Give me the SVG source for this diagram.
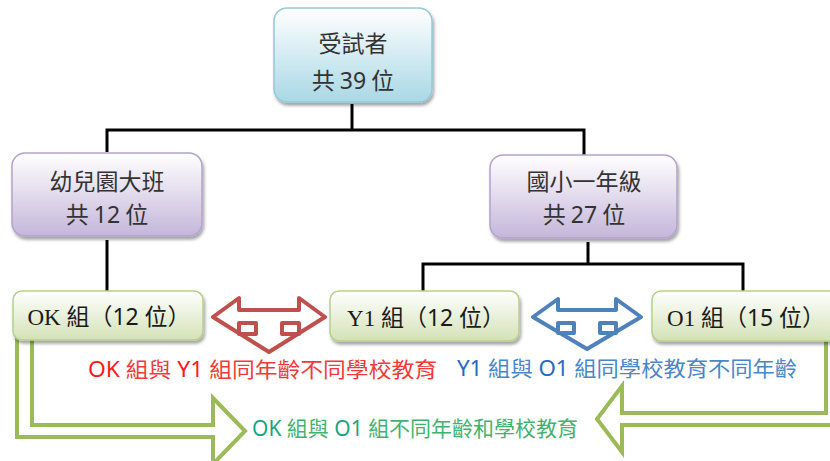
<svg xmlns="http://www.w3.org/2000/svg" width="830" height="461" viewBox="0 0 830 461">
<defs>
<linearGradient id="gBlue" x1="0" y1="0" x2="0" y2="1"><stop offset="0" stop-color="#ffffff"/><stop offset="1" stop-color="#a9d8e5"/></linearGradient>
<linearGradient id="gPurple" x1="0" y1="0" x2="0" y2="1"><stop offset="0" stop-color="#ffffff"/><stop offset="1" stop-color="#c4b6da"/></linearGradient>
<linearGradient id="gGreen" x1="0" y1="0" x2="0" y2="1"><stop offset="0" stop-color="#ffffff"/><stop offset="1" stop-color="#d3e2b6"/></linearGradient>
<filter id="sh" x="-10%" y="-10%" width="125%" height="135%"><feDropShadow dx="1.5" dy="3" stdDeviation="1.8" flood-color="#000" flood-opacity="0.35"/></filter>
</defs>
<style>
.conn{fill:none;stroke:#000;stroke-width:3;stroke-linejoin:miter}
.box{stroke-width:1.5}
.t{font-family:"Noto Sans CJK TC","Noto Sans CJK SC",sans-serif;font-size:23px;fill:#333;text-anchor:middle}
.num{font-family:"Noto Sans",sans-serif}
.lab{font-family:"Liberation Serif","Noto Sans CJK TC",serif;font-size:23px;fill:#1a1a1a;text-anchor:middle}
.ann{font-family:"Noto Sans","Noto Sans CJK TC",sans-serif;font-size:21px}
.garrow{fill:#fff;stroke:#9bbb59;stroke-width:4;stroke-linejoin:miter}
</style>
<g id="connectors">
<path class="conn" d="M352,104 V130 M107,152 V130 H584 V155"/>
<path class="conn" d="M107,240 V292"/>
<path class="conn" d="M588,242 V264 M423,292 V264 H743 V292"/>
</g>
<g id="green-arrow-left"><path class="garrow" d="M17,338 V437 H213 V464 L245,431 L213,398 V425 H32 V338"/></g>
<g id="green-arrow-right"><path class="garrow" d="M826,338 V413 H622 V386 L597,419 L622,452 V425 H845 V338"/></g>
<g id="node-top">
<rect class="box" x="274" y="8" width="158" height="94" rx="13" fill="url(#gBlue)" stroke="#95c8d8" filter="url(#sh)"/>
<text class="t" x="353" y="52">受試者</text>
<text class="t" x="353" y="89">共 <tspan class="num">39</tspan> 位</text>
</g>
<g id="node-kinder">
<rect class="box" x="12" y="153" width="190" height="83" rx="13" fill="url(#gPurple)" stroke="#b3a2cc" filter="url(#sh)"/>
<text class="t" x="107" y="190">幼兒園大班</text>
<text class="t" x="107" y="223">共 <tspan class="num">12</tspan> 位</text>
</g>
<g id="node-grade1">
<rect class="box" x="490" y="155" width="187" height="83" rx="13" fill="url(#gPurple)" stroke="#b3a2cc" filter="url(#sh)"/>
<text class="t" x="584" y="190">國小一年級</text>
<text class="t" x="584" y="223">共 <tspan class="num">27</tspan> 位</text>
</g>
<g id="node-ok">
<rect class="box" x="13" y="291" width="190" height="49" rx="9" fill="url(#gGreen)" stroke="#b7cf8c" filter="url(#sh)"/>
<text class="lab" x="109" y="325">OK 組（<tspan class="num">12</tspan> 位）</text>
</g>
<g id="node-y1">
<rect class="box" x="330" y="291" width="189" height="50" rx="9" fill="url(#gGreen)" stroke="#b7cf8c" filter="url(#sh)"/>
<text class="lab" x="426" y="326">Y1 組（<tspan class="num">12</tspan> 位）</text>
</g>
<g id="node-o1">
<rect class="box" x="652" y="291" width="190" height="50" rx="9" fill="url(#gGreen)" stroke="#b7cf8c" filter="url(#sh)"/>
<text class="lab" x="746" y="326">O1 組（<tspan class="num">15</tspan> 位）</text>
</g>
<g id="labels">
<text class="ann" x="88" y="377" fill="#f23a3a" textLength="349" lengthAdjust="spacingAndGlyphs"><tspan fill="#ff1a1a">OK</tspan> 組與 <tspan fill="#ff1a1a">Y1</tspan> 組同年齡不同學校教育</text>
<text class="ann" x="457" y="376" fill="#4a86c8" textLength="340" lengthAdjust="spacingAndGlyphs"><tspan fill="#1f6cc4">Y1</tspan> 組與 <tspan fill="#1f6cc4">O1</tspan> 組同學校教育不同年齡</text>
<text class="ann" x="252" y="436" fill="#3fb36e" textLength="326" lengthAdjust="spacingAndGlyphs"><tspan fill="#17a77a">OK</tspan> 組與 <tspan fill="#17a77a">O1</tspan> 組不同年齡和學校教育</text>
</g>
<g id="arrow-red" fill="#ffffff" stroke="#c0504d" stroke-width="4" stroke-linejoin="round">
<polygon points="213,317 239,298 239,310 299,310 299,298 325,317 269,352"/>
<polygon points="239,323 256,323 256,334 239,334"/>
<polygon points="282,323 299,323 299,334 282,334"/>
</g>
<g id="arrow-blue" fill="#ffffff" stroke="#4f81bd" stroke-width="4" stroke-linejoin="round">
<polygon points="533,317 558,299 558,310 616,310 616,299 641,317 587,349"/>
<polygon points="558,323 574,323 574,333 558,333"/>
<polygon points="600,323 616,323 616,333 600,333"/>
</g>
</svg>
